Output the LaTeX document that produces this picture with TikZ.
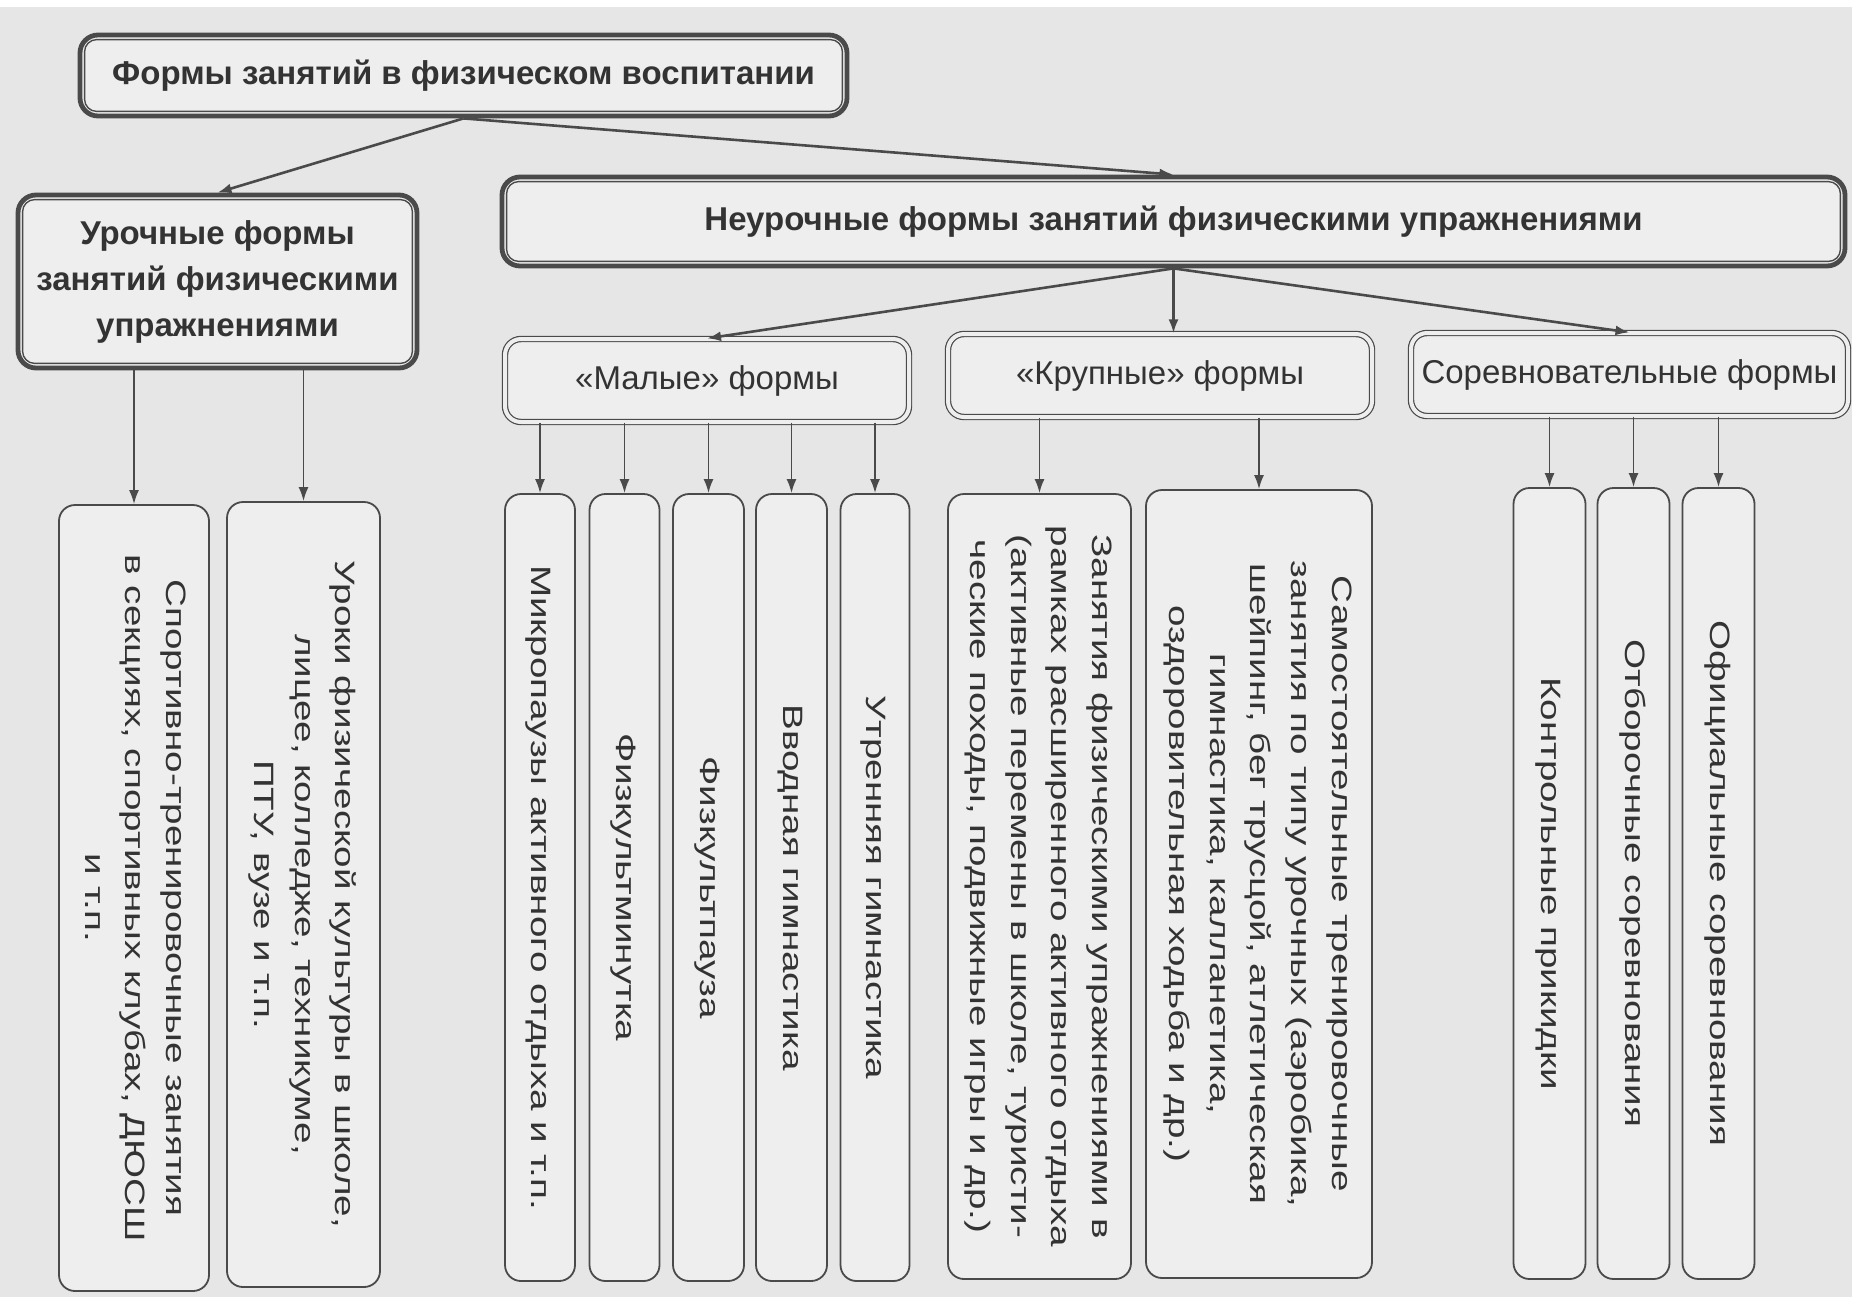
\documentclass[tikz,border=0pt]{standalone}
\usepackage{fontspec}
\usepackage{graphicx}
\setmainfont{Liberation Sans}
\newfontfamily\vf[FakeStretch=1.38]{Liberation Sans}
\usetikzlibrary{arrows.meta}
\definecolor{bgc}{HTML}{E6E6E6}
\definecolor{boxc}{HTML}{EEEEEE}
\definecolor{linec}{HTML}{4A4A4A}
\definecolor{txtc}{HTML}{333333}
\newcommand\myvert[1]{\rotatebox{-90}{\vf\fontsize{14pt}{20.3pt}\selectfont\begin{tabular}{@{}c@{}}#1\end{tabular}}}
\tikzset{
  sz/.style 2 args={minimum width=#1*0.5pt, minimum height=#2*0.5pt},
  box1/.style={draw=linec, line width=2.4pt, rounded corners=9pt, fill=boxc, text=txtc,
    align=center, inner sep=0pt, font=\bfseries\fontsize{16.5pt}{23pt}\selectfont},
  inner1/.style={draw=linec, line width=0.7pt, rounded corners=6pt},
  box2/.style={draw=linec, line width=0.6pt, double=boxc, double distance=2pt, rounded corners=8pt,
    fill=boxc, text=txtc, inner sep=0pt, font=\fontsize{16.5pt}{20pt}\selectfont},
  leaf/.style={draw=linec, line width=0.9pt, rounded corners=8pt, fill=boxc, text=txtc, inner sep=0pt},
  arr/.style={draw=linec, line width=0.9pt, -{Latex[length=7pt,width=5pt]}},
  arrb/.style={arr, line width=1.3pt}
}
\begin{document}
\begin{tikzpicture}[x=0.5pt,y=-0.5pt]
\fill[bgc] (0,0) rectangle (1852,1297);
\fill[white] (0,0) rectangle (1852,7);
\useasboundingbox (0,0) rectangle (1852,1297);

% level 1
\node[box1, sz={767}{81}] (top) at (463.5,75.5) {Формы занятий в физическом воспитании};
\node[box1, sz={399}{173}] (uroch) at (217.5,281.5) {Урочные формы\\занятий физическими\\упражнениями};
\node[box1, sz={1343}{89}] (neuroch) at (1173.5,221.5) {Неурочные формы занятий физическими упражнениями};
\foreach \n in {top,uroch,neuroch}
  \draw[inner1] ([shift={(3.5pt,-3.5pt)}]\n.north west) rectangle ([shift={(-3.5pt,3.5pt)}]\n.south east);

% level 2
\node[box2, sz={404}{83}] (malye) at (707,380.5) {«Малые» формы};
\node[box2, sz={424}{83}] (krupnye) at (1160,375.5) {«Крупные» формы};
\node[box2, sz={437}{83}] (sorevn) at (1629.5,374.5) {Соревновательные формы};

% leaves
\node[leaf, sz={150}{786}] (sport) at (134,898) {\myvert{Спортивно-тренировочные занятия\\в секциях, спортивных клубах, ДЮСШ\\и т.п.}};
\node[leaf, sz={153}{785}] (uroki) at (303.5,894.5) {\myvert{Уроки физической культуры в школе,\\лицее, колледже, техникуме,\\ПТУ, вузе и т.п.}};
\node[leaf, sz={70}{787}] (mikro) at (540,887.5) {\myvert{Микропаузы активного отдыха и т.п.}};
\node[leaf, sz={70}{787}] (fminut) at (624.5,887.5) {\myvert{Физкультминутка}};
\node[leaf, sz={71}{787}] (fpauza) at (708.5,887.5) {\myvert{Физкультпауза}};
\node[leaf, sz={71}{787}] (vvod) at (791.5,887.5) {\myvert{Вводная гимнастика}};
\node[leaf, sz={69}{787}] (utren) at (875,887.5) {\myvert{Утренняя гимнастика}};
\node[leaf, sz={183}{785}] (zanyat) at (1039.5,886.5) {\myvert{Занятия физическими упражнениями в\\рамках расширенного активного отдыха\\(активные перемены в школе, туристи-\\ческие походы, подвижные игры и др.)}};
\node[leaf, sz={226}{788}] (samost) at (1259,884) {\myvert{Самостоятельные тренировочные\\занятия по типу урочных (аэробика,\\шейпинг, бег трусцой, атлетическая\\гимнастика, калланетика,\\оздоровительная ходьба и др.)}};
\node[leaf, sz={72}{791}] (kontr) at (1549.5,883.5) {\myvert{Контрольные прикидки}};
\node[leaf, sz={72}{791}] (otbor) at (1633.5,883.5) {\myvert{Отборочные соревнования}};
\node[leaf, sz={72}{791}] (ofic) at (1718.5,883.5) {\myvert{Официальные соревнования}};

% connectors
\draw[arrb] (top.south) -- (uroch.north);
\draw[arrb] (top.south) -- (neuroch.north);
\draw[arrb] (neuroch.south) -- (malye.north);
\draw[arrb] (neuroch.south) -- (neuroch.south |- krupnye.north);
\draw[arrb] (neuroch.south) -- (sorevn.north);
\foreach \c in {sport,uroki} \draw[arr] (uroch.south -| \c.north) -- (\c.north);
\foreach \c in {mikro,fminut,fpauza,vvod,utren} \draw[arr] (malye.south -| \c.north) -- (\c.north);
\foreach \c in {zanyat,samost} \draw[arr] (krupnye.south -| \c.north) -- (\c.north);
\foreach \c in {kontr,otbor,ofic} \draw[arr] (sorevn.south -| \c.north) -- (\c.north);
\end{tikzpicture}
\end{document}
